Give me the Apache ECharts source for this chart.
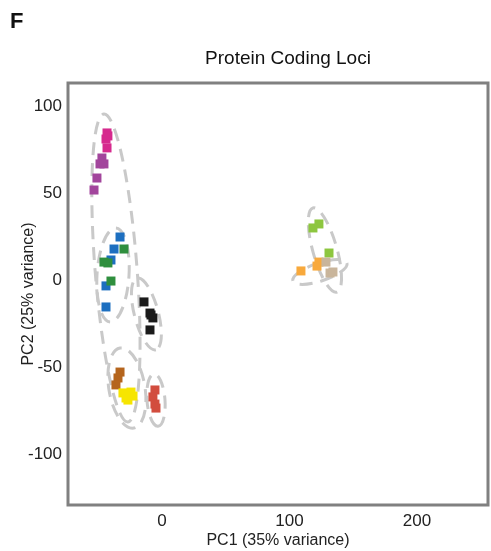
<!DOCTYPE html>
<html>
<head>
<meta charset="utf-8">
<script src="https://cdn.jsdelivr.net/npm/echarts@6/dist/echarts.min.js"></script>
<style>
  html, body { margin: 0; padding: 0; background: #fff; }
  #chart { width: 491px; height: 551px; }
</style>
</head>
<body>
<div id="chart"></div>
<script>
// PCA sample scores, [PC1, PC2]
const magenta = [[-43.1, 84.5], [-43.9, 81.0], [-42.4, 82.8], [-43.1, 75.9]];
const purple = [[-47.1, 70.1], [-48.6, 66.7], [-45.5, 66.7], [-51.0, 58.6], [-53.3, 51.7]];
const blue = [[-32.9, 24.7], [-37.6, 17.8], [-40.0, 11.5], [-43.9, -3.4], [-43.9, -15.5]];
const green = [[-29.8, 17.8], [-45.5, 10.3], [-42.4, 9.8], [-40.0, -0.6]];
const black = [[-14.1, -12.6], [-9.4, -19.0], [-7.1, -21.8], [-8.6, -20.1], [-9.4, -28.7]];
const brown = [[-32.9, -52.9], [-34.5, -56.3], [-36.1, -60.3]];
const yellow = [[-30.6, -64.9], [-24.3, -64.4], [-26.7, -69.0], [-22.7, -66.7], [-28.2, -67.8]];
const red = [[-5.5, -63.2], [-7.1, -67.2], [-5.5, -71.3], [-4.7, -73.6]];
const lime = [[118.4, 29.9], [123.1, 32.2], [131.0, 15.5]];
const orange = [[109.0, 5.2], [123.1, 10.3], [121.6, 8.0]];
const tan = [[128.6, 10.3], [131.8, 4.0], [134.1, 4.6]];

// Group outlines: centre [PC1, PC2] and end of the long axis [PC1, PC2]
const outlines = [
  [-36.1, 6.9, -45.5, 95.4],
  [-38.4, 2.9, -36.1, 29.9],
  [-12.2, -19.5, -19.6, 1.1],
  [-27.5, -62.1, -32.9, -39.1],
  [-4.7, -69.0, -6.3, -54.0],
  [127.8, 17.2, 118.4, 41.4],
  [123.9, 4.6, 102.7, -0.6]
];
const outlineHalfWidthPx = [21, 16, 12, 18, 9, 12, 9];

const xTicks = [0, 100, 200];
const yTicks = [-100, -50, 0, 50, 100];

const groups = [
  { name: 'magenta', data: magenta, color: '#d62a8e' },
  { name: 'purple', data: purple, color: '#a2459c' },
  { name: 'blue', data: blue, color: '#1d6fc0' },
  { name: 'green', data: green, color: '#2f8f3e' },
  { name: 'black', data: black, color: '#1b1b1b' },
  { name: 'brown', data: brown, color: '#b5651d' },
  { name: 'yellow', data: yellow, color: '#f6e500' },
  { name: 'red', data: red, color: '#d24d3e' },
  { name: 'lime', data: lime, color: '#8dc63f' },
  { name: 'orange', data: orange, color: '#f8a93c' },
  { name: 'tan', data: tan, color: '#c9b59b' }
];

const FONT = 'Liberation Sans, Arial, sans-serif';

const chart = echarts.init(document.getElementById('chart'), null, { renderer: 'canvas' });

const outlineSeries = {
  type: 'custom',
  name: 'outlines',
  data: outlines,
  encode: { x: [0, 2], y: [1, 3] },
  clip: false,
  silent: true,
  z: 1,
  renderItem: function (params, api) {
    const c = api.coord([api.value(0), api.value(1)]);
    const t = api.coord([api.value(2), api.value(3)]);
    const dx = t[0] - c[0], dy = t[1] - c[1];
    const rx = Math.sqrt(dx * dx + dy * dy);
    const angle = Math.atan2(dy, dx);
    return {
      type: 'ellipse',
      x: c[0],
      y: c[1],
      rotation: -angle,
      shape: { cx: 0, cy: 0, rx: rx, ry: outlineHalfWidthPx[params.dataIndex] },
      style: {
        fill: null,
        stroke: '#c9c9c9',
        lineWidth: 3,
        lineDash: [13, 8]
      }
    };
  }
};

const pointSeries = groups.map(g => ({
  type: 'scatter',
  name: g.name,
  data: g.data,
  symbol: 'rect',
  symbolSize: 9,
  z: 3,
  itemStyle: { color: g.color, opacity: 1 }
}));

chart.setOption({
  animation: false,
  backgroundColor: '#ffffff',
  title: {
    text: 'Protein Coding Loci',
    left: 283,
    top: 44,
    textAlign: 'center',
    textStyle: { fontFamily: FONT, fontSize: 19, fontWeight: 'normal', color: '#111' }
  },
  graphic: [{
    type: 'text',
    left: 10,
    top: 11,
    style: { text: 'F', fontFamily: FONT, fontSize: 22, fontWeight: 'bold', fill: '#111' }
  }],
  grid: {
    left: 68, top: 83, width: 420, height: 422,
    containLabel: false,
    outerBoundsMode: 'none',
    show: true, borderColor: '#808080', borderWidth: 3, backgroundColor: 'transparent'
  },
  xAxis: {
    type: 'value',
    min: -73.7, max: 255.7,
    name: 'PC1 (35% variance)',
    nameLocation: 'middle',
    nameGap: 28,
    nameMoveOverlap: false,
    nameTextStyle: { fontFamily: FONT, fontSize: 16, color: '#222' },
    splitLine: { show: false },
    axisLine: { show: false },
    axisTick: { show: false },
    axisLabel: {
      customValues: xTicks,
      margin: 8,
      fontFamily: FONT, fontSize: 17, color: '#222'
    }
  },
  yAxis: {
    type: 'value',
    min: -129.3, max: 113.2,
    name: 'PC2 (25% variance)',
    nameLocation: 'middle',
    nameGap: 31,
    nameMoveOverlap: false,
    nameTextStyle: { fontFamily: FONT, fontSize: 16, color: '#222' },
    splitLine: { show: false },
    axisLine: { show: false },
    axisTick: { show: false },
    axisLabel: {
      customValues: yTicks,
      margin: 6,
      fontFamily: FONT, fontSize: 17, color: '#222'
    }
  },
  series: [outlineSeries].concat(pointSeries)
});
</script>
</body>
</html>
